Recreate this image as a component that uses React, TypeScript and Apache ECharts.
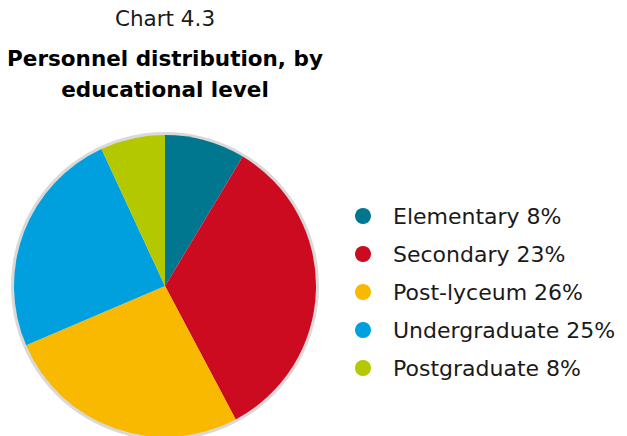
import React, { useEffect, useRef } from "react";
import * as echarts from "echarts";

const categories = ["Elementary", "Secondary", "Post-lyceum", "Undergraduate", "Postgraduate"];
// slice sizes (angles)
const sliceValues = [8.6, 33.6, 26.3, 24.5, 6.9];
// percentages as printed in the legend
const legendPercents = ["8%", "23%", "26%", "25%", "8%"];
const colors = ["#00778f", "#cc0a20", "#f9b900", "#009fde", "#b4c800"];

export default function App() {
  const ref = useRef<HTMLDivElement>(null);
  useEffect(() => {
    if (!ref.current) return;
    const chart = echarts.init(ref.current, undefined, { renderer: "svg" });
    const font = "'DejaVu Sans', sans-serif";
    chart.setOption({
      animation: false,
      textStyle: { fontFamily: font },
      title: [
        {
          text: "Chart 4.3",
          left: 165,
          top: 7,
          textAlign: "center",
          padding: 0,
          textStyle: { fontSize: 21.5, fontWeight: "normal", color: "#1a1a1a", fontFamily: font },
        },
        {
          text: "Personnel distribution, by\neducational level",
          left: 165,
          top: 43,
          textAlign: "center",
          padding: 0,
          textStyle: { fontSize: 21.5, fontWeight: "bold", color: "#000", lineHeight: 31, fontFamily: font },
        },
      ],
      legend: {
        orient: "vertical",
        left: 355,
        top: 205,
        padding: 0,
        icon: "circle",
        itemWidth: 16,
        itemHeight: 16,
        itemGap: 16,
        data: categories,
        formatter: (name: string) => `${name} ${legendPercents[categories.indexOf(name)]}`,
        textStyle: { fontSize: 22, color: "#1a1a1a", lineHeight: 22, padding: [0, 0, 0, 17], fontFamily: font },
      },
      series: [
        {
          type: "pie",
          silent: true,
          center: [165, 286],
          radius: [148, 154],
          startAngle: 90,
          label: { show: false },
          labelLine: { show: false },
          itemStyle: { color: "#d9d9d9" },
          data: [{ name: "__border", value: 1 }],
          z: 1,
        },
        {
          type: "pie",
          center: [165, 286],
          radius: [0, 151],
          startAngle: 90,
          clockwise: true,
          label: { show: false },
          labelLine: { show: false },
          itemStyle: { borderWidth: 0 },
          emphasis: { disabled: true },
          data: categories.map((c, i) => ({ name: c, value: sliceValues[i], itemStyle: { color: colors[i] } })),
          z: 2,
        },
      ],
    });
    return () => chart.dispose();
  }, []);
  return (
    <div
      ref={ref}
      style={{ position: "fixed", left: 0, top: 0, width: 627, height: 436, background: "#fff" }}
    />
  );
}
